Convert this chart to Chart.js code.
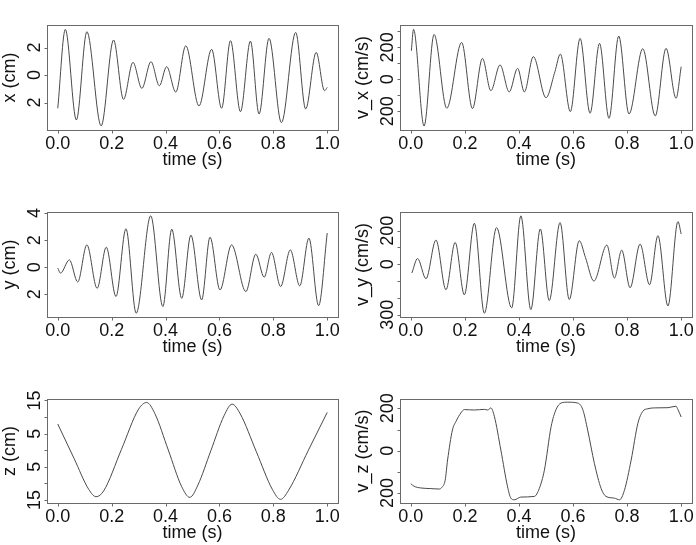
<!DOCTYPE html>
<html>
<head>
<meta charset="utf-8">
<script src="https://cdn.jsdelivr.net/npm/chart.js@4.4.1/dist/chart.umd.min.js"></script>
<style>
  html, body { margin: 0; padding: 0; background: #ffffff; }
  #wrap { position: relative; width: 696px; height: 545px; overflow: hidden; background: #fff; }
  #wrap canvas { position: absolute; left: 0; top: 0; }
</style>
</head>
<body>
<div id="wrap">
  <canvas id="c1" width="696" height="545"></canvas>
  <canvas id="c2" width="696" height="545"></canvas>
  <canvas id="c3" width="696" height="545"></canvas>
  <canvas id="c4" width="696" height="545"></canvas>
  <canvas id="c5" width="696" height="545"></canvas>
  <canvas id="c6" width="696" height="545"></canvas>
</div>
<script>
// ---------- data ----------
const xT = [0, 0.028, 0.069, 0.108, 0.161, 0.207, 0.244, 0.279, 0.312, 0.346, 0.377, 0.404, 0.438, 0.475, 0.524, 0.571, 0.608, 0.641, 0.678, 0.715, 0.747, 0.784, 0.830, 0.883, 0.920, 0.959, 0.990, 1.0];
const xV = [-2.42, 3.32, -3.27, 3.15, -3.70, 2.55, -1.77, 0.92, -0.97, 0.97, -0.78, 0.61, -1.24, 2.13, -2.25, 1.87, -2.42, 2.50, -2.67, 2.47, -2.84, 2.67, -3.47, 3.10, -2.47, 1.65, -1.14, -0.90];

const vxT = [0.002, 0.010, 0.049, 0.086, 0.133, 0.188, 0.228, 0.265, 0.296, 0.330, 0.364, 0.395, 0.420, 0.453, 0.500, 0.533, 0.553, 0.590, 0.626, 0.663, 0.698, 0.733, 0.769, 0.807, 0.858, 0.904, 0.944, 0.981, 1.000];
const vxV = [179, 313, -292, 281, -181, 231, -183, 131, -71, 90, -79, 69, -79, 142, -115, 48, 158, -202, 256, -212, 225, -244, 271, -217, 192, -229, 194, -119, 79];

const yT = [0, 0.010, 0.043, 0.074, 0.108, 0.146, 0.180, 0.216, 0.253, 0.291, 0.345, 0.390, 0.423, 0.460, 0.494, 0.534, 0.565, 0.602, 0.645, 0.698, 0.735, 0.766, 0.793, 0.827, 0.863, 0.898, 0.932, 0.968, 1.0];
const yV = [-0.07, -0.44, 0.54, -1.09, 1.65, -1.56, 1.48, -2.17, 2.84, -3.40, 3.80, -2.91, 2.81, -2.30, 2.37, -2.42, 2.22, -1.68, 1.65, -1.80, 0.96, -0.74, 1.09, -1.43, 1.28, -1.38, 2.15, -2.84, 2.52];

const vyT = [0.004, 0.025, 0.056, 0.093, 0.130, 0.164, 0.198, 0.235, 0.272, 0.317, 0.373, 0.407, 0.444, 0.479, 0.512, 0.552, 0.586, 0.623, 0.646, 0.677, 0.725, 0.753, 0.780, 0.811, 0.848, 0.883, 0.914, 0.951, 0.988, 1.0];
const vyV = [-52, 34, -86, 144, -152, 130, -182, 244, -292, 218, -260, 288, -270, 210, -216, 248, -210, 140, 40, -100, 114, -82, 84, -140, 120, -122, 170, -248, 254, 180];

const zT = [0, 0.06, 0.115, 0.142, 0.17, 0.236, 0.30, 0.33, 0.36, 0.41, 0.46, 0.49, 0.52, 0.568, 0.617, 0.647, 0.677, 0.737, 0.797, 0.827, 0.857, 0.93, 1.0];
const zV = [7.9, -2.4, -11.8, -14.0, -12.3, 0.2, 12.4, 14.4, 11.1, 0.1, -11.0, -14.2, -10.5, -0.15, 10.4, 13.9, 11.0, -0.45, -11.9, -14.8, -12.0, 0.0, 11.4];

const vzT = [0.0, 0.012, 0.037, 0.074, 0.105, 0.115, 0.127, 0.136, 0.154, 0.167, 0.185, 0.198, 0.235, 0.272, 0.284, 0.296, 0.309, 0.333, 0.358, 0.370, 0.383, 0.407, 0.457, 0.475, 0.494, 0.519, 0.537, 0.556, 0.580, 0.617, 0.636, 0.654, 0.679, 0.704, 0.722, 0.753, 0.772, 0.790, 0.815, 0.840, 0.858, 0.877, 0.901, 0.951, 0.981, 0.988, 1.0];
const vzV = [-156, -168, -176, -179, -181, -173, -140, -44, 98, 138, 178, 194, 192, 195, 192, 202, 162, 3, -171, -224, -232, -219, -216, -179, -92, 114, 194, 225, 229, 225, 194, 98, -60, -179, -216, -224, -232, -187, -44, 130, 186, 198, 202, 203, 210, 194, 159];

// ---------- tick labels ----------
const timeTicks = [0, 0.2, 0.4, 0.6, 0.8, 1.0];
const timeTickLabels = ['0.0', '0.2', '0.4', '0.6', '0.8', '1.0'];
const xTicks = [-2, 0, 2];            const xTickLabels = ['2', '0', '2'];
const vxTicks = [-200, -100, 0, 100, 200, 300]; const vxTickLabels = ['200', '', '0', '', '200', ''];
const yTicks = [-2, 0, 2, 4];         const yTickLabels = ['2', '0', '2', '4'];
const vyTicks = [-300, -200, -100, 0, 100, 200]; const vyTickLabels = ['300', '', '', '0', '', '200'];
const zTicks = [-15, -10, -5, 0, 5, 10, 15]; const zTickLabels = ['15', '', '5', '', '5', '', '15'];
const vzTicks = [-200, -100, 0, 100, 200]; const vzTickLabels = ['200', '', '0', '', '200'];

const timeTitle = 'time (s)';

// ---------- layout / style ----------
const FONT = '18px "Liberation Sans", Arial, Helvetica, sans-serif';
const panels = [
  { id: 'c1', t: xT,  v: xV,  yMin: -4.0,  yMax: 3.64, ticks: xTicks,  labels: xTickLabels,  title: 'x (cm)',     box: [47, 25, 338, 130] },
  { id: 'c2', t: vxT, v: vxV, yMin: -317,  yMax: 340,  ticks: vxTicks, labels: vxTickLabels, title: 'v_x (cm/s)', box: [400, 25, 692, 130] },
  { id: 'c3', t: yT,  v: yV,  yMin: -3.68, yMax: 4.08, ticks: yTicks,  labels: yTickLabels,  title: 'y (cm)',     box: [47, 212, 338, 317] },
  { id: 'c4', t: vyT, v: vyV, yMin: -314,  yMax: 311,  ticks: vyTicks, labels: vyTickLabels, title: 'v_y (cm/s)', box: [400, 212, 692, 317] },
  { id: 'c5', t: zT,  v: zV,  yMin: -15.9, yMax: 15.45, ticks: zTicks, labels: zTickLabels,  title: 'z (cm)',     box: [47, 399, 338, 503] },
  { id: 'c6', t: vzT, v: vzV, yMin: -247,  yMax: 244,  ticks: vzTicks, labels: vzTickLabels, title: 'v_z (cm/s)', box: [400, 399, 692, 503] }
];

const rFrame = {
  id: 'rFrame',
  afterDraw(chart) {
    const o = chart.options.plugins.rFrame;
    const { ctx, chartArea: a } = chart;
    const xs = chart.scales.x, ys = chart.scales.y;
    const L = Math.round(a.left), R = Math.round(a.right), T = Math.round(a.top), B = Math.round(a.bottom);
    ctx.save();
    ctx.strokeStyle = '#6a6a6a';
    ctx.lineWidth = 1;
    ctx.strokeRect(L + 0.5, T + 0.5, R - L, B - T);
    // x ticks
    ctx.beginPath();
    o.xTicks.forEach(v => {
      const px = Math.round(xs.getPixelForValue(v)) + 0.5;
      ctx.moveTo(px, B + 0.5); ctx.lineTo(px, B + 3.5);
    });
    o.yTicks.forEach(v => {
      const py = Math.round(ys.getPixelForValue(v)) + 0.5;
      ctx.moveTo(L + 0.5, py); ctx.lineTo(L - 2.5, py);
    });
    ctx.stroke();
    // text
    ctx.fillStyle = '#111';
    ctx.font = FONT;
    ctx.textAlign = 'center';
    ctx.textBaseline = 'alphabetic';
    o.xTicks.forEach((v, i) => {
      ctx.fillText(o.xLabels[i], xs.getPixelForValue(v), B + 18.5);
    });
    ctx.fillText(o.xTitle, (a.left + a.right) / 2, B + 34.5);
    o.yTicks.forEach((v, i) => {
      if (!o.yLabels[i]) return;
      ctx.save();
      ctx.translate(L - 7, ys.getPixelForValue(v));
      ctx.rotate(-Math.PI / 2);
      ctx.fillText(o.yLabels[i], 0, 0);
      ctx.restore();
    });
    ctx.save();
    ctx.translate(L - 32, (a.top + a.bottom) / 2);
    ctx.rotate(-Math.PI / 2);
    ctx.fillText(o.yTitle, 0, 0);
    ctx.restore();
    ctx.restore();
  }
};

panels.forEach(p => {
  const [l, t, r, b] = p.box;
  new Chart(document.getElementById(p.id), {
    type: 'line',
    data: {
      datasets: [{
        data: p.t.map((tv, i) => ({ x: tv, y: p.v[i] })),
        borderColor: '#4a4a4a',
        borderWidth: 1,
        pointRadius: 0,
        fill: false,
        cubicInterpolationMode: 'monotone'
      }]
    },
    options: {
      responsive: false,
      animation: false,
      devicePixelRatio: 1,
      layout: { padding: { left: l, top: t, right: 696 - r, bottom: 545 - b } },
      scales: {
        x: { type: 'linear', min: -0.04, max: 1.04, display: false },
        y: { type: 'linear', min: p.yMin, max: p.yMax, display: false }
      },
      plugins: {
        legend: { display: false },
        tooltip: { enabled: false },
        rFrame: {
          xTicks: timeTicks, xLabels: timeTickLabels, xTitle: timeTitle,
          yTicks: p.ticks, yLabels: p.labels, yTitle: p.title
        }
      }
    },
    plugins: [rFrame]
  });
});
</script>
</body>
</html>
